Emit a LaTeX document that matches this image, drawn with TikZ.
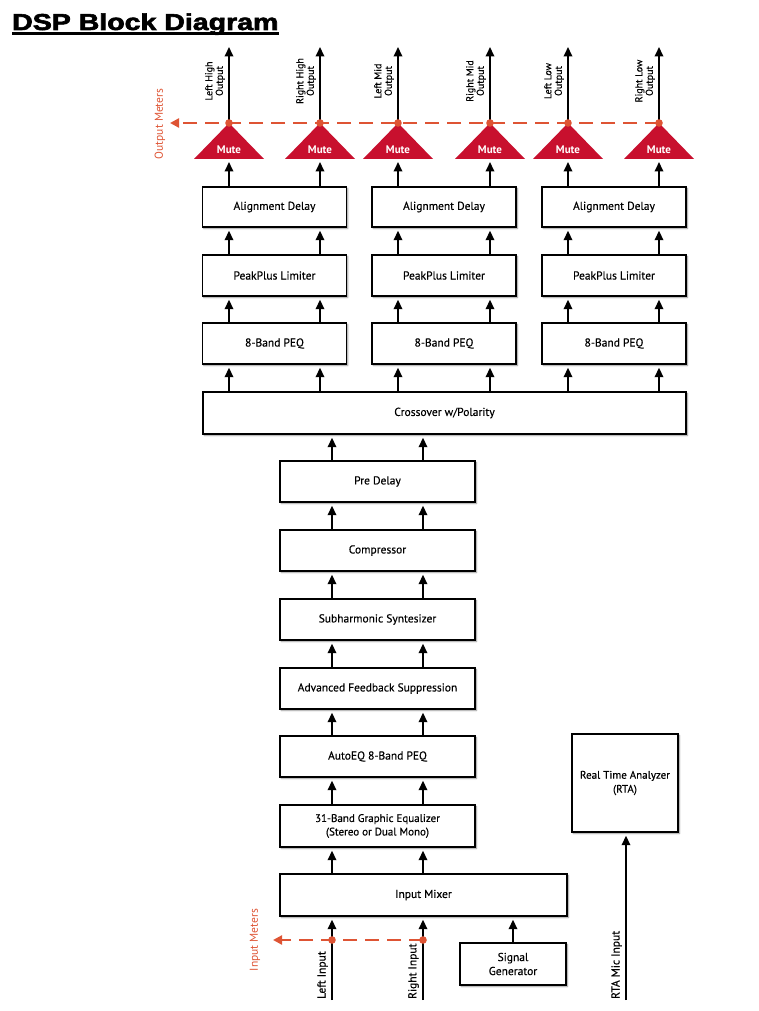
\documentclass[tikz,border=0pt]{standalone}
\usepackage{fontspec}
\setmainfont{PT Sans}
\newfontfamily\lblfont[FakeBold=0.35]{PT Sans}
\newfontfamily\titlefont[FakeBold=2.5]{Liberation Sans Bold}
\usetikzlibrary{arrows.meta,shadows.blur,calc}
\definecolor{mutered}{RGB}{200,16,46}
\definecolor{meter}{RGB}{222,84,52}
\tikzset{
  box/.style={draw=black, line width=1.4pt, fill=white, inner sep=2pt,
    align=center, font=\lblfont\fontsize{11.5}{14}\selectfont,
    blur shadow={shadow xshift=1.3pt, shadow yshift=-1.5pt, shadow blur steps=6, shadow blur radius=1.5pt, shadow opacity=45}},
  arr/.style={line width=1.8pt, -{Triangle[width=8.5pt,length=9.5pt]}, shorten >=3pt},
  arrf/.style={line width=1.8pt, -{Triangle[width=8.5pt,length=9.5pt]}},
  meterline/.style={draw=meter, line width=2.6pt, dash pattern=on 14pt off 8pt, -{Triangle[width=9pt,length=9pt]}},
  outlbl/.style={rotate=90, align=center, inner sep=0pt, font=\lblfont\fontsize{10}{10.5}\selectfont, anchor=south},
  inlbl/.style={rotate=90, inner sep=0pt, font=\lblfont\fontsize{11.5}{12}\selectfont, anchor=south west},
  meterlbl/.style={rotate=90, inner sep=0pt, text=meter, font=\fontsize{11.5}{12}\selectfont},
  mutetext/.style={text=white, inner sep=0pt, font=\bfseries\fontsize{11}{12}\selectfont},
}
\begin{document}
\begin{tikzpicture}[x=1pt,y=-1pt]
\useasboundingbox (0,0) rectangle (758,1011);
% title
\node[anchor=base west, inner sep=0pt] (title) at (12,30) {\scalebox{1.24}[1]{\titlefont\fontsize{23}{25}\selectfont DSP Block Diagram}};
\draw[line width=2.2pt] ([yshift=-3.5pt]title.base west) -- ([yshift=-3.5pt]title.base east);

% column x coordinates
\foreach \n/\x in {c1/229,c2/320,c3/398,c4/490,c5/568,c6/659,m1/332,m2/423,sg/516,rt/626}
  \coordinate (\n) at (\x,0);

% upper boxes
\foreach \i/\x in {1/274.5,2/444,3/614}{
  \node[box, minimum width=144pt, minimum height=40pt] (ad\i) at (\x,207) {Alignment Delay};
  \node[box, minimum width=144pt, minimum height=41pt] (pl\i) at (\x,275.5) {PeakPlus Limiter};
  \node[box, minimum width=144pt, minimum height=41pt] (pq\i) at (\x,343.5) {8-Band PEQ};
}
\node[box, minimum width=483pt, minimum height=42pt] (xo) at (444.5,413) {Crossover w/Polarity};

% middle chain
\node[box, minimum width=195pt, minimum height=41pt] (pd) at (377.5,481.5) {Pre Delay};
\node[box, minimum width=195pt, minimum height=41pt] (co) at (377.5,550.5) {Compressor};
\node[box, minimum width=195pt, minimum height=41pt] (sh) at (377.5,619.5) {Subharmonic Syntesizer};
\node[box, minimum width=195pt, minimum height=41pt] (af) at (377.5,688.5) {Advanced Feedback Suppression};
\node[box, minimum width=195pt, minimum height=41pt] (ae) at (377.5,756.5) {AutoEQ 8-Band PEQ};
\node[box, minimum width=195pt, minimum height=42pt, font=\lblfont\fontsize{11}{13.5}\selectfont] (ge) at (377.5,826) {31-Band Graphic Equalizer\\(Stereo or Dual Mono)};
\node[box, minimum width=287pt, minimum height=42pt] (im) at (423.5,895) {Input Mixer};
\node[box, minimum width=106pt, minimum height=42pt, font=\lblfont\fontsize{11.5}{14}\selectfont] (sgen) at (513,964) {Signal\\Generator};
\node[box, minimum width=106pt, minimum height=98pt, font=\lblfont\fontsize{11}{14}\selectfont] (rta) at (625,783) {Real Time Analyzer\\(RTA)};

% arrows upper columns
\foreach \i/\a/\b in {1/c1/c2,2/c3/c4,3/c5/c6}{
  \foreach \c in {\a,\b}{
    \draw[arr] (xo.north -| \c) -- (pq\i.south -| \c);
    \draw[arr] (pq\i.north -| \c) -- (pl\i.south -| \c);
    \draw[arr] (pl\i.north -| \c) -- (ad\i.south -| \c);
  }
}
% arrows middle chain
\foreach \c in {m1,m2}{
  \draw[arr] (pd.north -| \c) -- (xo.south -| \c);
  \draw[arr] (co.north -| \c) -- (pd.south -| \c);
  \draw[arr] (sh.north -| \c) -- (co.south -| \c);
  \draw[arr] (af.north -| \c) -- (sh.south -| \c);
  \draw[arr] (ae.north -| \c) -- (af.south -| \c);
  \draw[arr] (ge.north -| \c) -- (ae.south -| \c);
  \draw[arr] (im.north -| \c) -- (ge.south -| \c);
}
\draw[arr] (sgen.north) -- (im.south -| sgen.north);

% mute stages and outputs
\foreach \i/\c/\la/\lb in {1/c1/Left High/Output,2/c2/Right High/Output,3/c3/Left Mid/Output,4/c4/Right Mid/Output,5/c5/Left Low/Output,6/c6/Right Low/Output}{
  \coordinate (mb\i) at ($(\c)+(0,159)$);
  \coordinate (dot\i) at ($(\c)+(0,123)$);
  \coordinate (top\i) at ($(\c)+(0,47)$);
  \fill[mutered] ($(mb\i)+(-35,0)$) -- ($(mb\i)+(35,0)$) -- (dot\i) -- cycle;
  \node[mutetext] (mute\i) at ($(\c)+(0,150)$) {Mute};
  \draw[arrf] (dot\i) -- (top\i);
  \node[outlbl] (ol\i) at ($(\c)+(-4,81)$) {\la\\\lb};
}
\foreach \i/\c in {1/c1,2/c2}{\draw[arr] (ad1.north -| \c) -- (mb\i);}
\foreach \i/\c in {3/c3,4/c4}{\draw[arr] (ad2.north -| \c) -- (mb\i);}
\foreach \i/\c in {5/c5,6/c6}{\draw[arr] (ad3.north -| \c) -- (mb\i);}

\coordinate (omtip) at (170,123);
\draw[meterline] (dot6) -- (omtip);
\foreach \i in {1,...,6}{\fill[meter] (dot\i) circle (3.8pt);}
\node[meterlbl] (oml) at (160,124) {Output Meters};

% inputs
\coordinate (lin) at ($(m1)+(0,1000)$);
\coordinate (rin) at ($(m2)+(0,1000)$);
\coordinate (ldot) at ($(m1)+(0,940)$);
\coordinate (rdot) at ($(m2)+(0,940)$);
\coordinate (imtip) at (273,940);
\draw[arr] (lin) -- (im.south -| m1);
\draw[arr] (rin) -- (im.south -| m2);
\draw[meterline] (rdot) -- (imtip);
\fill[meter] (ldot) circle (3.8pt);
\fill[meter] (rdot) circle (3.8pt);
\node[inlbl] (lil) at ($(m1)+(-4,999)$) {Left Input};
\node[inlbl] (ril) at ($(m2)+(-4,999)$) {Right Input};
\node[meterlbl] (iml) at (255,940) {Input Meters};

% RTA mic
\coordinate (rtain) at ($(rt)+(0,1000)$);
\draw[arr] (rtain) -- (rta.south -| rt);
\node[inlbl] (rml) at ($(rt)+(-4,999)$) {RTA Mic Input};
\end{tikzpicture}
\end{document}
